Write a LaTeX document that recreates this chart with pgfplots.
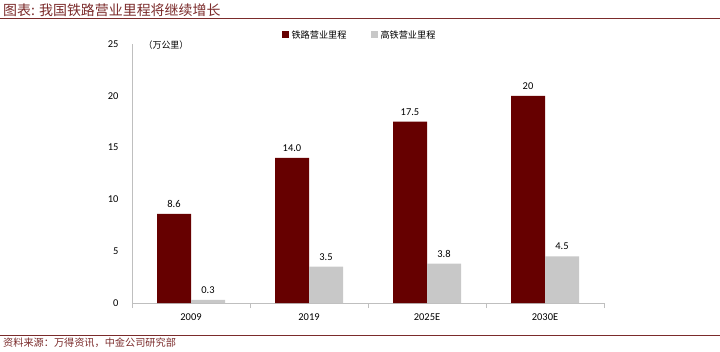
\documentclass[border=0pt]{standalone}
\usepackage{fontspec}
\setmainfont{Carlito}
\newfontfamily\cjk{Noto Sans CJK SC}
\usepackage{pgfplots}
\pgfplotsset{compat=1.18}
\definecolor{darkred}{HTML}{660000}
\definecolor{lgray}{HTML}{C8C8C8}
\definecolor{axgray}{HTML}{BFBFBF}
\definecolor{titlered}{HTML}{7B2B2B}
\begin{document}
\begin{tikzpicture}[x=1bp,y=1bp]
\useasboundingbox (0,0) rectangle (720,351);
\node[anchor=west, text=titlered, font=\cjk\fontsize{14}{15}\selectfont, inner sep=0pt] at (3,341) {图表: 我国铁路营业里程将继续增长};
\draw[titlered, line width=1bp] (0,332) -- (720,332);
\draw[titlered, line width=0.8bp] (0,16) -- (720,16);
\node[anchor=west, text=titlered, font=\cjk\fontsize{10.2}{12}\selectfont, inner sep=0pt] at (3,8) {资料来源：万得资讯，中金公司研究部};
\begin{axis}[
  at={(132bp,48bp)}, anchor=south west,
  width=472bp, height=259bp, scale only axis,
  ymin=0, ymax=25, ytick={0,5,10,15,20,25},
  xmin=-0.5, xmax=3.5,
  xtick={-0.5,0.5,1.5,2.5,3.5},
  x tick label as interval,
  xticklabels={2009,2019,2025E,2030E},
  axis x line*=bottom, axis y line*=left,
  axis line style={draw=axgray, line width=0.8bp, -},
  ytick style={draw=none},
  xtick style={draw=axgray, line width=0.8bp},
  tick align=outside, major tick length=5bp,
  yticklabel style={xshift=-5bp},
  xticklabel style={yshift=-2bp},
  ticklabel style={font=\fontsize{10.5}{12}\selectfont},
  /pgf/number format/assume math mode=true,
  ybar=0pt, bar width=34bp,
  nodes near coords, point meta=explicit symbolic,
  nodes near coords style={font=\fontsize{10.5}{12}\selectfont, yshift=3bp, text=black},
  legend columns=2,
  legend style={at={(0.482,1.035)}, anchor=center, draw=none, fill=none,
    font=\cjk\fontsize{9.2}{11}\selectfont, column sep=22bp,
    /tikz/every odd column/.style={column sep=1bp}},
  legend image code/.code={\fill[#1] (0bp,-3.5bp) rectangle (7bp,3.5bp);},
  clip=false,
]
\addplot[fill=darkred, draw=none] coordinates {(0,8.6)[8.6] (1,14.0)[14.0] (2,17.5)[17.5] (3,20)[20]};
\addplot[fill=lgray, draw=none] coordinates {(0,0.3)[0.3] (1,3.5)[3.5] (2,3.8)[3.8] (3,4.5)[4.5]};
\legend{铁路营业里程,高铁营业里程}
\node[font=\cjk\fontsize{9}{11}\selectfont, anchor=center] at (rel axis cs:0.072,0.995) {（万公里）};
\end{axis}
\end{tikzpicture}
\end{document}
